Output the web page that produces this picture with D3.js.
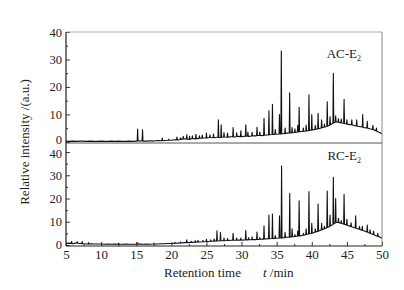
<!DOCTYPE html>
<html>
  <head>
    <meta charset="UTF-8" />
    <script src="https://cdnjs.cloudflare.com/ajax/libs/d3/7.8.5/d3.min.js"></script>
    <style>
      body { margin: 0; background: #fff; }
      text { font-family: "Liberation Serif", "Times New Roman", serif; fill: #222; }
    </style>
  </head>
  <body>
    <svg id="chart" width="404" height="290"></svg>
    <script>
      // baseline samples every 0.5 min from 5 to 50
      const baseTimes = d3.range(5, 50.01, 0.5);
      const acBase = [
        0.3, 0.2, 0.3, 0.2, 0.3, 0.3, 0.2, 0.3, 0.2, 0.2,
        0.3, 0.2, 0.2, 0.3, 0.2, 0.3, 0.2, 0.2, 0.3, 0.2,
        0.3, 0.4, 0.3, 0.3, 0.4, 0.3, 0.5, 0.4, 0.5, 0.6,
        0.6, 0.8, 0.7, 1.0, 1.1, 0.9, 1.2, 1.1, 1.3, 1.4,
        1.4, 1.6, 1.5, 1.7, 1.6, 1.8, 1.7, 1.9, 1.8, 2.0,
        1.9, 2.1, 2.0, 2.2, 2.2, 2.4, 2.3, 2.5, 2.6, 2.7,
        2.8, 2.9, 3.0, 3.2, 3.3, 3.4, 3.6, 3.8, 3.9, 4.1,
        4.3, 4.6, 4.8, 5.2, 5.5, 6.0, 6.8, 7.3, 7.0, 6.8,
        6.5, 6.3, 6.0, 5.7, 5.5, 5.2, 5.0, 4.6, 4.2, 3.6,
        3.0
      ];
      const rcBase = [
        0.6, 0.8, 0.5, 0.9, 0.6, 0.5, 0.4, 0.5, 0.4, 0.4,
        0.4, 0.3, 0.4, 0.3, 0.4, 0.3, 0.3, 0.4, 0.3, 0.3,
        0.3, 0.4, 0.3, 0.4, 0.3, 0.4, 0.4, 0.5, 0.5, 0.6,
        0.6, 0.7, 0.8, 0.9, 1.0, 1.0, 1.1, 1.2, 1.3, 1.4,
        1.5, 1.6, 1.6, 1.7, 1.8, 1.8, 1.9, 2.0, 2.0, 2.1,
        2.1, 2.2, 2.2, 2.3, 2.3, 2.4, 2.5, 2.6, 2.7, 2.8,
        2.9, 3.0, 3.1, 3.3, 3.4, 3.6, 3.8, 4.0, 4.3, 4.7,
        5.0, 5.5, 6.0, 6.6, 7.2, 7.9, 8.8, 9.8, 9.5, 9.0,
        8.6, 8.0, 7.5, 7.0, 6.5, 6.0, 5.4, 4.8, 4.2, 3.6,
        2.9
      ];

      // peaks: [retention time, apex intensity]
      const acPeaks = [
        [15.2, 4.7], [15.9, 4.4], [18.7, 1.4], [19.6, 1.0], [20.8, 1.8], [21.3, 1.5],
        [21.7, 2.0], [22.2, 2.6], [22.6, 2.0], [23.0, 2.2], [23.5, 2.8], [24.0, 2.2],
        [24.4, 2.5], [25.0, 3.2], [25.5, 2.6], [26.0, 2.9], [26.7, 8.0], [27.1, 6.2],
        [27.5, 3.4], [28.0, 3.2], [28.8, 5.2], [29.3, 3.3], [29.9, 4.0], [30.6, 6.2],
        [30.9, 3.6], [31.5, 3.5], [32.2, 5.3], [32.6, 3.6], [33.2, 8.6], [33.9, 11.3],
        [34.4, 13.7], [34.8, 4.5], [35.4, 10.0], [35.66, 33.1], [36.2, 5.0], [36.85, 17.9],
        [37.2, 5.2], [37.6, 4.8], [38.0, 6.0], [38.2, 12.6], [38.8, 5.0], [39.2, 6.0],
        [39.6, 17.1], [40.0, 10.0], [40.5, 6.0], [40.9, 10.4], [41.4, 8.0], [41.8, 6.5],
        [42.2, 14.6], [42.6, 9.2], [43.07, 25.0], [43.4, 9.5], [43.8, 8.5], [44.2, 8.3],
        [44.6, 15.5], [45.0, 8.0], [45.7, 8.0], [46.4, 8.0], [47.25, 10.0], [47.9, 7.5],
        [48.7, 6.0], [49.2, 5.0]
      ];
      const rcPeaks = [
        [5.8, 1.5], [6.6, 1.4], [7.3, 1.6], [8.2, 1.0], [12.5, 0.8], [15.2, 0.9],
        [17.5, 0.7], [20.5, 1.2], [21.3, 1.3], [22.2, 2.2], [22.8, 1.6], [23.4, 1.8],
        [23.8, 2.0], [24.5, 1.9], [25.0, 2.4], [25.6, 2.2], [26.1, 2.6], [26.5, 6.1],
        [27.0, 5.3], [27.5, 3.0], [28.0, 2.8], [28.8, 5.0], [29.3, 3.0], [29.9, 3.0],
        [30.6, 6.2], [31.0, 3.2], [31.5, 3.5], [32.2, 5.6], [32.6, 3.2], [33.2, 8.2],
        [33.9, 12.9], [34.4, 13.3], [34.8, 4.0], [35.4, 12.5], [35.7, 34.0], [36.2, 5.5],
        [36.86, 22.2], [37.2, 7.0], [37.6, 4.5], [38.0, 6.0], [38.2, 19.0], [38.8, 5.0],
        [39.2, 7.0], [39.6, 23.0], [40.0, 9.3], [40.5, 7.0], [40.9, 17.6], [41.4, 9.3],
        [41.8, 8.0], [42.2, 23.2], [42.6, 12.9], [43.07, 29.1], [43.4, 20.0], [43.8, 11.5],
        [44.2, 10.5], [44.6, 21.8], [45.0, 11.0], [45.6, 9.5], [46.25, 12.5], [46.8, 8.0],
        [47.2, 8.0], [47.9, 8.6], [48.3, 6.5], [48.8, 6.0], [49.4, 5.0]
      ];

      const xTicks = [5, 10, 15, 20, 25, 30, 35, 40, 45, 50];
      const yTicks = [0, 10, 20, 30, 40];

      const svg = d3.select("#chart");
      const pLeft = 66, pRight = 382, pTop = 32, pMid = 143, pBottom = 246;

      const x = d3.scaleLinear().domain([5, 50]).range([pLeft, pRight]);
      const yTop = d3.scaleLinear().domain([-0.4, 40]).range([pMid, pTop]);
      const yBot = d3.scaleLinear().domain([-0.45, 43.9]).range([pBottom, pMid]);

      function trace(base, peaks) {
        const baseAt = d3.scaleLinear().domain(baseTimes).range(base);
        const w = 0.06;
        const pts = baseTimes
          .map((t, i) => [t, base[i]])
          .filter(p => !peaks.some(k => Math.abs(k[0] - p[0]) < w * 1.5));
        peaks.forEach(k => {
          pts.push([k[0] - w, baseAt(k[0] - w)]);
          pts.push([k[0], k[1]]);
          pts.push([k[0] + w, baseAt(k[0] + w)]);
        });
        return pts.sort((a, b) => a[0] - b[0]);
      }

      function panel(base, peaks, y, y0, y1, label, labelY, id, shiftTick) {
        svg.append("clipPath").attr("id", id)
          .append("rect").attr("x", pLeft).attr("y", y0)
          .attr("width", pRight - pLeft).attr("height", y1 - y0);

        const line = d3.line().x(d => x(d[0])).y(d => y(d[1]));
        svg.append("path")
          .attr("clip-path", `url(#${id})`)
          .attr("d", line(trace(base, peaks)))
          .attr("fill", "none")
          .attr("stroke", "#111")
          .attr("stroke-width", 1.1)
          .attr("stroke-linejoin", "round");

        // y axis, inward ticks
        const ga = svg.append("g").attr("transform", `translate(${pLeft},0)`)
          .call(d3.axisLeft(y).tickValues(yTicks).tickSize(-4).tickSizeOuter(0).tickPadding(4));
        ga.select(".domain").remove();
        ga.selectAll("text").style("font-size", "12.5px")
          .style("font-family", "'Liberation Serif', serif").attr("fill", "#222");
        ga.selectAll("line").attr("stroke", "#333");
        // nudge the label sitting at the panel join so the two don't collide
        ga.selectAll("text").filter(d => d === shiftTick[0]).attr("y", shiftTick[1]);
        const gm = svg.append("g").attr("transform", `translate(${pLeft},0)`)
          .call(d3.axisLeft(y).tickValues([5, 15, 25, 35]).tickSize(-2).tickFormat(""));
        gm.select(".domain").remove();
        gm.selectAll("line").attr("stroke", "#333");

        const lab = svg.append("text")
          .attr("x", 361).attr("y", labelY)
          .attr("text-anchor", "end")
          .style("font-size", "13px");
        lab.append("tspan").text(label);
        lab.append("tspan").attr("dy", 3).style("font-size", "8px").text("2");
      }

      panel(acBase, acPeaks, yTop, pTop, pMid, "AC-E", 58, "clipTop", [0, -2.5]);
      panel(rcBase, rcPeaks, yBot, pMid, pBottom, "RC-E", 160, "clipBot", [40, 1.5]);

      // x axis
      const gx = svg.append("g").attr("transform", `translate(0,${pBottom})`)
        .call(d3.axisBottom(x).tickValues(xTicks).tickSize(-4).tickSizeOuter(0).tickPadding(4));
      gx.select(".domain").remove();
      gx.selectAll("text").style("font-size", "13px")
        .style("font-family", "'Liberation Serif', serif").attr("fill", "#222");
      gx.selectAll("line").attr("stroke", "#333");
      const gxm = svg.append("g").attr("transform", `translate(0,${pBottom})`)
        .call(d3.axisBottom(x).tickValues(d3.range(7.5, 50, 5)).tickSize(-2).tickFormat(""));
      gxm.select(".domain").remove();
      gxm.selectAll("line").attr("stroke", "#333");

      // frame
      svg.append("line").attr("x1", pLeft).attr("x2", pRight).attr("y1", pTop).attr("y2", pTop)
        .attr("stroke", "#aaa").attr("stroke-width", 1);
      svg.append("line").attr("x1", pRight).attr("x2", pRight).attr("y1", pTop).attr("y2", pBottom)
        .attr("stroke", "#888").attr("stroke-width", 1);
      svg.append("line").attr("x1", pLeft).attr("x2", pRight).attr("y1", pMid).attr("y2", pMid)
        .attr("stroke", "#555").attr("stroke-width", 1);
      svg.append("line").attr("x1", pLeft).attr("x2", pRight).attr("y1", pBottom).attr("y2", pBottom)
        .attr("stroke", "#222").attr("stroke-width", 1.2);
      svg.append("line").attr("x1", pLeft).attr("x2", pLeft).attr("y1", pTop).attr("y2", pBottom)
        .attr("stroke", "#222").attr("stroke-width", 1.2);

      // axis titles
      const xt = svg.append("text").attr("x", 164).attr("y", 277).style("font-size", "13px");
      xt.append("tspan").text("Retention time");
      xt.append("tspan").attr("dx", 22).style("font-style", "italic").text("t");
      xt.append("tspan").text(" /min");

      svg.append("text")
        .attr("transform", "translate(29,142) rotate(-90)")
        .attr("text-anchor", "middle")
        .style("font-size", "13px")
        .text("Relative intensity /(a.u.)");
    </script>
  </body>
</html>
